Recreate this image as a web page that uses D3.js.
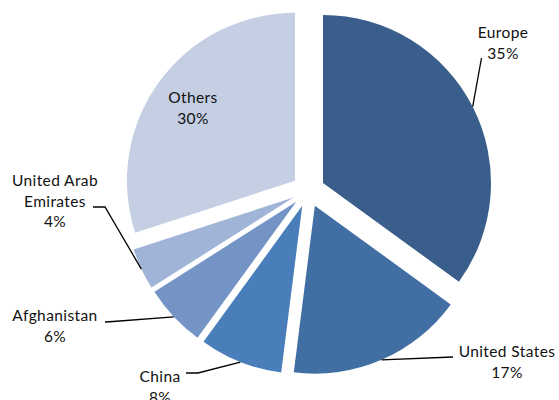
<!DOCTYPE html>
<html>
<head>
<meta charset="utf-8">
<script src="https://cdn.jsdelivr.net/npm/d3@7/dist/d3.min.js"></script>
<style>
  html, body { margin: 0; padding: 0; background: #fff; }
  svg { display: block; }
  text { font-family: "Lato", "Open Sans", sans-serif; font-size: 15.5px; letter-spacing: 0.4px; fill: #111; }
</style>
</head>
<body>
<svg id="chart" width="559" height="400"></svg>
<script>
// ---- data ----
const categories = ["Europe", "United States", "China", "Afghanistan", "United Arab Emirates", "Others"];
const values = [35, 17, 8, 6, 4, 30];
const labelLines = [["Europe"], ["United States"], ["China"], ["Afghanistan"], ["United Arab", "Emirates"], ["Others"]];
const colors = ["#3A5E8C", "#426FA3", "#4A7EBA", "#7494C6", "#A0B4D8", "#C4CFE4"];

// ---- layout ----
const W = 559, H = 400;
const cx = 308.3, cy = 190.5, R = 168, explode = 16.5;
// label text anchor (center x, first baseline) and leader elbow points
const labelLayout = {
  "Europe":               { x: 503, y: 38,  leader: [[481.5, 58]] },
  "United States":        { x: 507, y: 357, leader: [[453, 357]] },
  "China":                { x: 160, y: 382, leader: [[198, 373], [186, 373]] },
  "Afghanistan":          { x: 55,  y: 321, leader: [[113, 321.5], [105, 322]] },
  "United Arab Emirates": { x: 55,  y: 186, leader: [[105, 207], [93, 207]] },
  "Others":               { x: 193, y: 103, leader: null }
};
const lineH = 20.5;

const svg = d3.select("#chart");
const g = svg.append("g").attr("transform", `translate(${cx},${cy})`);

const pie = d3.pie().sort(null).startAngle(0).endAngle(2 * Math.PI);
const arcs = pie(values);
const arc = d3.arc().innerRadius(0).outerRadius(R);

function offset(a) {
  const m = (a.startAngle + a.endAngle) / 2;
  return [explode * Math.sin(m), -explode * Math.cos(m)];
}

g.selectAll("path.slice")
  .data(arcs)
  .join("path")
  .attr("class", "slice")
  .attr("d", arc)
  .attr("fill", (d, i) => colors[i])
  .attr("transform", d => { const o = offset(d); return `translate(${o[0]},${o[1]})`; });

// leader lines
arcs.forEach((a, i) => {
  const lay = labelLayout[categories[i]];
  if (!lay.leader) return;
  const m = (a.startAngle + a.endAngle) / 2;
  const o = offset(a);
  const start = [cx + o[0] + R * Math.sin(m), cy + o[1] - R * Math.cos(m)];
  const pts = [start].concat(lay.leader);
  svg.append("path")
    .attr("d", d3.line()(pts))
    .attr("fill", "none")
    .attr("stroke", "#000")
    .attr("stroke-width", 1.3);
});

// labels
categories.forEach((c, i) => {
  const lay = labelLayout[c];
  const lines = labelLines[i].concat([values[i] + "%"]);
  const t = svg.append("text").attr("text-anchor", "middle");
  lines.forEach((s, j) => {
    t.append("tspan").attr("x", lay.x).attr("y", lay.y + j * lineH).text(s);
  });
});
</script>
</body>
</html>
